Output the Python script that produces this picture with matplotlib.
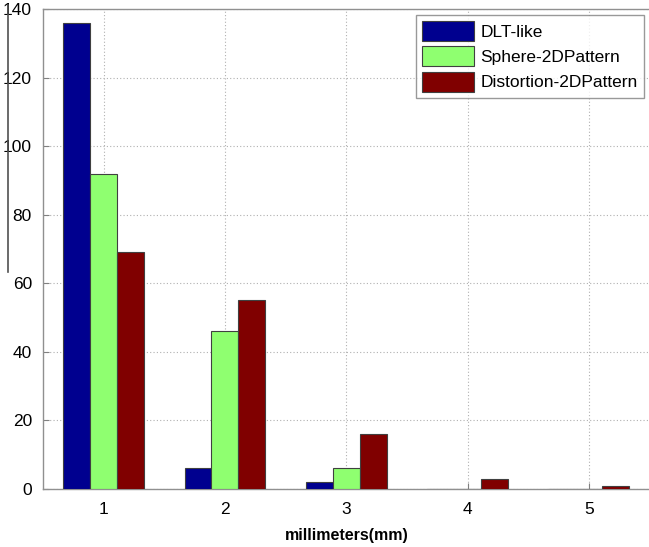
import matplotlib
matplotlib.use("Agg")
import matplotlib.pyplot as plt
import numpy as np
from matplotlib.lines import Line2D

plt.rcParams['font.family'] = ['Liberation Sans', 'DejaVu Sans']

categories = [1, 2, 3, 4, 5]
series_names = ["DLT-like", "Sphere-2DPattern", "Distortion-2DPattern"]
dlt = [136, 6, 2, 0, 0]
sphere = [92, 46, 6, 0, 0]
distortion = [69, 55, 16, 3, 1]
colors = ["#00008f", "#8fff70", "#800000"]
yticks = [0, 20, 40, 60, 80, 100, 120, 140]

fig = plt.figure(figsize=(6.49, 5.47), dpi=100)
ax = fig.add_axes([43/649, 58/547, (649.5-43)/649, (489-9)/547])

x = np.array(categories, dtype=float)
w = 0.222
for i, (vals, name) in enumerate(zip([dlt, sphere, distortion], series_names)):
    ax.bar(x + (i - 1) * w, vals, width=w, color=colors[i], edgecolor="#404040",
           linewidth=0.8, label=name, zorder=3)

ax.set_xlim(0.5, 5.5)
ax.set_ylim(0, 140)
ax.set_xticks(categories)
ax.set_yticks(yticks)
ax.tick_params(direction='in', labelsize=12.5, color='#808080', length=4)
ax.tick_params(axis='x', pad=9)
ax.tick_params(axis='y', pad=8)
ax.grid(True, linestyle=(0, (1, 2)), color='#b0b0b0', linewidth=0.8, zorder=0)
for s in ax.spines.values():
    s.set_color('#909090')
    s.set_linewidth(1.0)
ax.set_xlabel("millimeters(mm)", fontsize=11.5, fontweight='bold', labelpad=8)

leg = ax.legend(loc='upper right', bbox_to_anchor=(601/606.5, 1 - 6/480), fontsize=12.5,
                frameon=True, fancybox=False, edgecolor='#808080', handlelength=3.0,
                handleheight=1.4, borderpad=0.35, labelspacing=0.3, handletextpad=0.4,
                borderaxespad=0)
leg.get_frame().set_linewidth(1.0)

fig.add_artist(Line2D([8/649, 8/649], [1 - 5/547, 1 - 272/547], color='#505050', linewidth=1.2))

fig.savefig("out.png", dpi=100)
